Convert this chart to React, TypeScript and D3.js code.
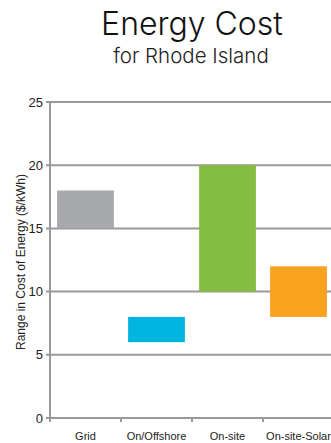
import { useEffect, useRef } from "react";
import * as d3 from "d3";

const categories = ["Grid", "On/Offshore", "On-site", "On-site-Solar"];
const lowValues = [15, 6, 10, 8];
const highValues = [18, 8, 20, 12];
const barColors = ["#a7a9ac", "#00b4e0", "#84bd42", "#f8a21f"];
const yTicks = [0, 5, 10, 15, 20, 25];

const W = 331;
const H = 443;

export default function App() {
  const ref = useRef<SVGSVGElement | null>(null);

  useEffect(() => {
    const svg = d3.select(ref.current);
    svg.selectAll("*").remove();

    const left = 50;
    const top = 102;
    const bottom = 418;

    const x = d3.scaleBand().domain(categories).range([left, left + 284]).paddingInner(0.2).paddingOuter(0.1);
    const y = d3.scaleLinear().domain([0, 25]).range([bottom, top]);

    // title
    svg.append("text")
      .attr("x", 192).attr("y", 35)
      .attr("text-anchor", "middle")
      .style("font-family", "Inter, 'Open Sans', sans-serif")
      .style("font-weight", 300)
      .style("font-size", "32px")
      .style("fill", "#111")
      .text("Energy Cost");
    svg.append("text")
      .attr("x", 191).attr("y", 63)
      .attr("text-anchor", "middle")
      .style("font-family", "Inter, 'Open Sans', sans-serif")
      .style("font-weight", 300)
      .style("font-size", "20.5px")
      .style("fill", "#222")
      .text("for Rhode Island");

    // gridlines
    svg.append("g").selectAll("line")
      .data(yTicks)
      .enter().append("line")
      .attr("x1", left - 4).attr("x2", W)
      .attr("y1", d => y(d)).attr("y2", d => y(d))
      .attr("stroke", "#999").attr("stroke-width", 2);

    // y axis line
    svg.append("line")
      .attr("x1", left).attr("x2", left)
      .attr("y1", top).attr("y2", bottom + 4)
      .attr("stroke", "#999").attr("stroke-width", 2);

    // x ticks
    const step = x.step();
    svg.append("g").selectAll("line")
      .data(categories)
      .enter().append("line")
      .attr("x1", d => (x(d) as number) - step * 0.2 / 2 + step)
      .attr("x2", d => (x(d) as number) - step * 0.2 / 2 + step)
      .attr("y1", bottom).attr("y2", bottom + 4)
      .attr("stroke", "#999").attr("stroke-width", 2);

    const narrow = "'Liberation Sans Narrow', 'Arial Narrow', sans-serif";

    // y tick labels
    svg.append("g").selectAll("text")
      .data(yTicks)
      .enter().append("text")
      .attr("x", left - 7)
      .attr("y", d => y(d))
      .attr("dy", "0.35em")
      .attr("text-anchor", "end")
      .style("font-family", narrow)
      .style("font-size", "13px")
      .style("fill", "#222")
      .text(d => d);

    // bars
    svg.append("g").selectAll("rect")
      .data(categories)
      .enter().append("rect")
      .attr("x", d => x(d) as number)
      .attr("width", x.bandwidth())
      .attr("y", (_, i) => y(highValues[i]))
      .attr("height", (_, i) => y(lowValues[i]) - y(highValues[i]))
      .attr("fill", (_, i) => barColors[i]);

    // category labels
    svg.append("g").selectAll("text")
      .data(categories)
      .enter().append("text")
      .attr("x", d => (x(d) as number) + x.bandwidth() / 2)
      .attr("y", 440)
      .attr("text-anchor", "middle")
      .style("font-family", narrow)
      .style("font-size", "11px")
      .style("fill", "#222")
      .text(d => d);

    // y axis title
    svg.append("text")
      .attr("transform", `translate(25,262) rotate(-90)`)
      .attr("text-anchor", "middle")
      .style("font-family", narrow)
      .style("font-size", "12px")
      .style("fill", "#222")
      .text("Range in Cost of Energy ($/kWh)");
  }, []);

  return (
    <svg ref={ref} width={W} height={H} style={{ position: "absolute", left: 0, top: 0, background: "#fff" }} />
  );
}
